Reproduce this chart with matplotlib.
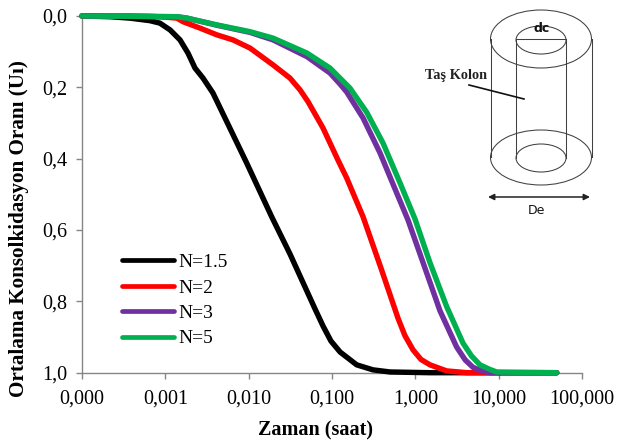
import matplotlib
matplotlib.use("Agg")
import matplotlib.pyplot as plt
from matplotlib.patches import Ellipse

plt.rcParams['font.family'] = ['Liberation Serif', 'DejaVu Serif']

W, H = 617, 442
x_ticks = [1e-4, 1e-3, 1e-2, 1e-1, 1, 10, 100]
x_labels = ['0,000', '0,001', '0,010', '0,100', '1,000', '10,000', '100,000']
y_ticks = [0, 0.2, 0.4, 0.6, 0.8, 1.0]
y_labels = ['0,0', '0,2', '0,4', '0,6', '0,8', '1,0']

t_black = [1e-4, 2.17e-4, 3.77e-4, 6.5e-4, 8.6e-4, 1.14e-3, 1.5e-3, 1.87e-3, 2.27e-3, 2.83e-3, 3.73e-3, 5.97e-3, 9.46e-3, 1.89e-2, 3.13e-2, 4.97e-2, 6.25e-2, 7.8e-2, 9.7e-2, 0.125, 0.198, 0.31, 0.497, 1.5, 49.7]
u_black = [0, 0.002, 0.006, 0.013, 0.02, 0.039, 0.067, 0.104, 0.146, 0.174, 0.216, 0.315, 0.412, 0.563, 0.667, 0.77, 0.821, 0.869, 0.911, 0.942, 0.978, 0.992, 0.998, 1, 1]

t_red = [1e-4, 3.77e-4, 6.5e-4, 1e-3, 1.38e-3, 1.63e-3, 2.61e-3, 4.17e-3, 6.49e-3, 1.04e-2, 1.96e-2, 3.13e-2, 4.13e-2, 5.15e-2, 7.8e-2, 0.118, 0.15, 0.236, 0.394, 0.619, 0.75, 0.938, 1.17, 1.5, 2.38, 4.17, 49.7]
u_red = [0, 0, 0.001, 0.003, 0.006, 0.016, 0.034, 0.053, 0.067, 0.09, 0.137, 0.174, 0.207, 0.24, 0.314, 0.404, 0.454, 0.563, 0.712, 0.847, 0.896, 0.936, 0.963, 0.978, 0.995, 1, 1]

t_purple = [1e-4, 1.38e-3, 1.82e-3, 4.17e-3, 1.04e-2, 1.96e-2, 5.01e-2, 9.46e-2, 0.125, 0.15, 0.236, 0.377, 0.597, 0.817, 1.24, 1.98, 3.13, 3.96, 4.92, 6.25, 7.87, 49.7]
u_purple = [0, 0.002, 0.006, 0.026, 0.046, 0.067, 0.114, 0.16, 0.191, 0.213, 0.286, 0.384, 0.496, 0.572, 0.692, 0.827, 0.928, 0.964, 0.985, 0.995, 1, 1]

t_green = [1e-4, 1.38e-3, 1.82e-3, 4.17e-3, 1.04e-2, 1.96e-2, 5.01e-2, 9.46e-2, 0.164, 0.261, 0.409, 0.655, 0.991, 1.5, 2.38, 3.73, 4.72, 5.97, 7.87, 9.46, 49.7]
u_green = [0, 0.002, 0.006, 0.025, 0.044, 0.062, 0.104, 0.146, 0.202, 0.27, 0.356, 0.468, 0.569, 0.692, 0.815, 0.917, 0.953, 0.978, 0.991, 0.998, 1]

series_names = ['N=1.5', 'N=2', 'N=3', 'N=5']
series_colors = ['#000000', '#FF0000', '#7030A0', '#00B050']

fig = plt.figure(figsize=(W/100, H/100), dpi=100)
L, R, T, B = 82, 582, 16, 372.7
ax = fig.add_axes([L/W, 1-B/H, (R-L)/W, (B-T)/H])
ax.set_xscale('log')
ax.set_xlim(1e-4, 100)
ax.set_ylim(1, 0)

for t, u, c, n in zip([t_black, t_red, t_purple, t_green], [u_black, u_red, u_purple, u_green], series_colors, series_names):
    ax.plot(t, u, color=c, lw=3.9, label=n, solid_capstyle='round', solid_joinstyle='round', clip_on=False, zorder=3)

ax.set_xticks(x_ticks)
ax.set_xticklabels(x_labels, fontsize=14.5)
ax.minorticks_off()
ax.set_yticks(y_ticks)
ax.set_yticklabels(y_labels, fontsize=14.5)
ax.tick_params(color='#868686', length=4, width=1.0)
ax.tick_params(axis='x', pad=8)
ax.tick_params(axis='y', pad=6.5)
for s in ['top', 'right']:
    ax.spines[s].set_visible(False)
for s in ['left', 'bottom']:
    ax.spines[s].set_color('#868686')
    ax.spines[s].set_linewidth(1.0)
ax.set_xlabel('Zaman (saat)', fontsize=14.5, fontweight='bold')
ax.xaxis.set_label_coords(0.466, -0.134)
ax.set_ylabel('Ortalama Konsolkidasyon Oranı (Uı)', fontsize=15.2, fontweight='bold')
ax.yaxis.set_label_coords(-0.105, 0.403)

leg = ax.legend(loc='lower left', bbox_to_anchor=(0.08, 0.071), frameon=False, fontsize=14,
                handlelength=2.67, handletextpad=0.25, labelspacing=0.4, borderpad=0, borderaxespad=0)
for h in leg.get_lines():
    h.set_linewidth(3.4)

# Inset sketch in pixel coordinates
ov = fig.add_axes([0, 0, 1, 1], facecolor='none')
ov.set_xlim(0, W)
ov.set_ylim(H, 0)
ov.axis('off')
gc = '#404040'
for cx, cy, w, h in [(541, 39, 101, 58), (541, 40, 50, 28), (541, 157.5, 101, 55), (541, 158, 50, 28)]:
    ov.add_patch(Ellipse((cx, cy), w, h, fill=False, ec=gc, lw=0.75))
for x0, y0, x1, y1 in [(490.5, 39, 490.5, 157), (591.5, 39, 591.5, 157), (516, 39, 516, 158), (566, 39, 566, 158), (516, 39, 566, 39)]:
    ov.plot([x0, x1], [y0, y1], color=gc, lw=0.75)
ov.plot([469, 524], [85, 99], color='#111111', lw=1.2)
ov.annotate('', xy=(590, 197), xytext=(488, 197), arrowprops=dict(arrowstyle='<|-|>', color='#222222', lw=1.1, mutation_scale=9, shrinkA=0, shrinkB=0))
ov.text(425, 75.5, 'Taş Kolon', fontsize=10.3, fontweight='bold', va='center', ha='left', color='#222222')
ov.text(541.5, 28, 'dc', fontsize=9, family=['DejaVu Sans'], fontweight='bold', va='center', ha='center', color='#111111')
ov.text(536, 211, 'De', fontsize=9, family=['DejaVu Sans'], va='center', ha='center', color='#111111')

fig.savefig('out.png', dpi=100)
